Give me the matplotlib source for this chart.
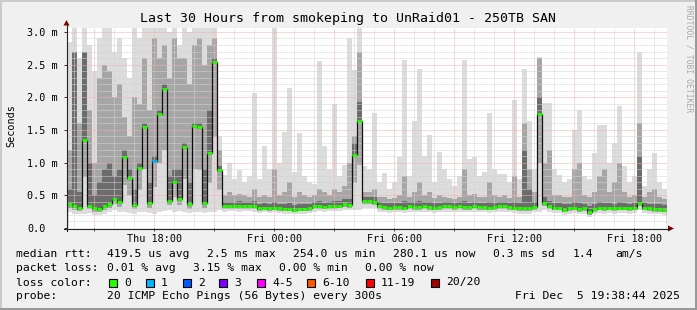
import numpy as np
import matplotlib
matplotlib.use("Agg")
from matplotlib import pyplot as plt
from matplotlib.patches import Rectangle, Polygon

plt.rcParams["font.family"] = "DejaVu Sans Mono"

# time axis: hours since Thu 00:00, 15 min bins over the last 30 hours
start_h = 13 + 38 / 60 + 44 / 3600
step_h = 0.25

# median rtt per bin (ms)
med = [0.36, 0.33, 0.31, 1.34, 0.34, 0.30, 0.29, 0.33, 0.37, 0.45,
       0.40, 1.09, 0.77, 0.35, 0.92, 1.55, 0.38, 1.03, 1.74, 2.12,
       0.42, 0.70, 0.45, 1.24, 0.36, 1.56, 1.55, 0.38, 1.15, 2.54,
       0.89, 0.34, 0.33, 0.33, 0.34, 0.33, 0.33, 0.33, 0.30, 0.31,
       0.30, 0.31, 0.30, 0.29, 0.29, 0.28, 0.29, 0.29, 0.30, 0.33,
       0.33, 0.32, 0.33, 0.33, 0.34, 0.37, 0.35, 1.12, 1.64, 0.41,
       0.41, 0.40, 0.33, 0.32, 0.31, 0.32, 0.32, 0.31, 0.33, 0.32,
       0.32, 0.33, 0.32, 0.31, 0.32, 0.33, 0.33, 0.32, 0.33, 0.32,
       0.32, 0.33, 0.32, 0.32, 0.31, 0.32, 0.33, 0.33, 0.32, 0.31,
       0.30, 0.30, 0.30, 0.32, 1.74, 0.38, 0.33, 0.31, 0.31, 0.28,
       0.30, 0.31, 0.29, 0.30, 0.24, 0.29, 0.31, 0.30, 0.31, 0.30,
       0.31, 0.31, 0.30, 0.31, 0.38, 0.31, 0.30, 0.29, 0.29, 0.28]

# smoke: max ping (light), upper spread (mid), dense core (dark), lowest ping
top = [2.85, 3.10, 2.60, 3.10, 2.80, 2.40, 2.90, 3.10, 3.10, 2.70,
       2.90, 2.60, 2.30, 3.10, 2.90, 3.10, 3.10, 3.10, 3.10, 3.10,
       3.00, 3.10, 2.80, 3.10, 3.00, 3.10, 3.10, 3.10, 3.10, 3.10,
       1.40, 0.81, 1.00, 0.75, 0.89, 0.70, 0.80, 2.06, 0.75, 1.25,
       0.90, 3.10, 1.00, 1.47, 2.14, 0.85, 1.45, 0.80, 0.70, 0.68,
       2.55, 1.25, 0.90, 1.90, 0.80, 0.96, 2.90, 2.42, 3.10, 0.95,
       0.90, 1.76, 0.70, 0.84, 0.60, 0.70, 1.09, 2.57, 0.79, 1.63,
       2.44, 1.10, 1.42, 0.70, 1.17, 0.90, 0.75, 0.65, 0.80, 2.57,
       1.05, 1.09, 0.80, 0.85, 1.76, 0.90, 0.82, 0.82, 0.70, 1.96,
       0.75, 2.44, 1.63, 0.90, 2.62, 1.91, 1.91, 0.90, 0.81, 0.70,
       0.75, 1.50, 1.81, 0.80, 0.75, 1.15, 1.58, 1.58, 1.00, 1.30,
       1.86, 0.95, 0.70, 0.80, 2.70, 0.65, 0.90, 1.15, 0.70, 0.60]

mid = [1.20, 2.70, 1.60, 2.60, 1.80, 1.00, 2.30, 2.50, 2.40, 2.00,
       2.20, 1.70, 1.40, 2.00, 1.90, 2.60, 1.80, 2.90, 2.60, 2.80,
       2.30, 2.90, 2.60, 2.60, 2.20, 2.80, 2.90, 2.50, 2.80, 2.90,
       1.20, 0.50, 0.55, 0.50, 0.52, 0.50, 0.48, 0.60, 0.47, 0.50,
       0.48, 0.90, 0.50, 0.55, 0.70, 0.47, 0.55, 0.50, 0.48, 0.50,
       0.60, 0.55, 0.50, 0.60, 0.55, 0.65, 1.00, 1.40, 2.70, 0.55,
       0.55, 0.60, 0.48, 0.47, 0.45, 0.46, 0.50, 0.80, 0.48, 0.55,
       0.70, 0.50, 0.55, 0.46, 0.50, 0.48, 0.46, 0.45, 0.48, 0.90,
       0.50, 0.52, 0.47, 0.48, 0.70, 0.50, 0.48, 0.50, 0.46, 0.80,
       0.48, 1.60, 0.90, 0.55, 2.60, 1.00, 1.20, 0.50, 0.50, 0.47,
       0.48, 0.90, 1.00, 0.50, 0.48, 0.55, 0.80, 0.90, 0.55, 0.70,
       1.00, 0.55, 0.48, 0.50, 1.60, 0.48, 0.55, 0.60, 0.48, 0.45]

dk = [0.60, 2.70, 0.55, 2.70, 1.00, 0.50, 0.70, 0.90, 1.00, 0.80,
      0.90, 1.20, 0.90, 0.60, 1.00, 1.60, 0.70, 1.10, 1.80, 2.20,
      0.80, 0.90, 0.90, 1.30, 0.70, 1.60, 1.60, 0.90, 1.80, 2.60,
      0.95, 0.40, 0.40, 0.40, 0.41, 0.40, 0.40, 0.42, 0.37, 0.38,
      0.37, 0.40, 0.37, 0.36, 0.38, 0.35, 0.37, 0.36, 0.37, 0.40,
      0.41, 0.39, 0.40, 0.41, 0.41, 0.45, 0.45, 1.30, 1.93, 0.48,
      0.48, 0.47, 0.40, 0.39, 0.38, 0.39, 0.39, 0.42, 0.40, 0.40,
      0.41, 0.40, 0.40, 0.38, 0.39, 0.40, 0.40, 0.39, 0.40, 0.42,
      0.39, 0.40, 0.39, 0.39, 0.40, 0.39, 0.40, 0.40, 0.39, 0.40,
      0.38, 1.20, 0.60, 0.40, 2.00, 0.48, 0.42, 0.38, 0.38, 0.36,
      0.37, 0.40, 0.38, 0.37, 0.33, 0.36, 0.40, 0.38, 0.38, 0.37,
      0.40, 0.38, 0.37, 0.38, 1.10, 0.38, 0.37, 0.36, 0.36, 0.35]

low = [0.24, 0.22, 0.21, 0.22, 0.23, 0.20, 0.20, 0.22, 0.24, 0.27,
       0.25, 0.24, 0.23, 0.22, 0.24, 0.25, 0.23, 0.22, 0.24, 0.26,
       0.27, 0.24, 0.26, 0.25, 0.23, 0.25, 0.24, 0.23, 0.24, 0.25,
       0.27, 0.25, 0.26, 0.26, 0.25, 0.26, 0.26, 0.25, 0.23, 0.24,
       0.23, 0.24, 0.23, 0.22, 0.22, 0.21, 0.22, 0.22, 0.23, 0.25,
       0.26, 0.25, 0.26, 0.26, 0.26, 0.28, 0.27, 0.27, 0.28, 0.31,
       0.31, 0.30, 0.25, 0.24, 0.23, 0.24, 0.24, 0.23, 0.25, 0.24,
       0.24, 0.25, 0.24, 0.23, 0.24, 0.25, 0.25, 0.24, 0.25, 0.24,
       0.24, 0.25, 0.24, 0.24, 0.23, 0.24, 0.25, 0.25, 0.24, 0.23,
       0.22, 0.22, 0.22, 0.24, 0.25, 0.28, 0.25, 0.23, 0.23, 0.20,
       0.22, 0.23, 0.21, 0.22, 0.17, 0.21, 0.23, 0.22, 0.23, 0.22,
       0.23, 0.23, 0.22, 0.23, 0.28, 0.23, 0.22, 0.21, 0.21, 0.20]

# bins with packet loss (bin index -> loss colour index)
loss_bins = {17: 1}

loss_labels = ["0", "1", "2", "3", "4-5", "6-10", "11-19", "20/20"]
loss_colors = ["#26ff00", "#00b8ff", "#0059ff", "#7e00ff",
               "#ff00ff", "#ff5500", "#ff0000", "#a10000"]

rtt_stats = ["419.5 us avg", "2.5 ms max", "254.0 us min", "280.1 us now",
             "0.3 ms sd", "1.4", "am/s"]
loss_stats = ["0.01 % avg", "3.15 % max", "0.00 % min", "0.00 % now"]
probe_text = "20 ICMP Echo Pings (56 Bytes) every 300s"
stamp_text = "Fri Dec  5 19:38:44 2025"
title = "Last 30 Hours from smokeping to UnRaid01 - 250TB SAN"

xtick_hours = [18, 24, 30, 36, 42]
xtick_labels = ["Thu 18:00", "Fri 00:00", "Fri 06:00", "Fri 12:00", "Fri 18:00"]
ytick_labels = ["0.0", "0.5 m", "1.0 m", "1.5 m", "2.0 m", "2.5 m", "3.0 m"]

# ---------------------------------------------------------------------------
W, H = 697, 310
fig = plt.figure(figsize=(W / 100, H / 100), dpi=100)
fig.patch.set_facecolor("#f0f0f0")

ax = fig.add_axes([67 / W, 82 / H, 600 / W, 200 / H])
ax.set_facecolor("white")

n = len(med)
med_a = np.array(med)
edges = start_h + step_h * np.arange(n + 1)

ax.stairs(top, edges, baseline=low, fill=True, color="#dcdcdc", lw=0, zorder=1)
ax.stairs(mid, edges, baseline=(np.array(low) + med_a) / 2, fill=True,
          color="#a6a6a6", lw=0, zorder=1.2)
ax.stairs(dk, edges, baseline=med_a - 0.03, fill=True, color="#6c6c6c", lw=0, zorder=1.4)
ax.stairs(med, edges, color="#111111", lw=0.9, zorder=4)
cols = [loss_colors[loss_bins.get(i, 0)] for i in range(n)]
ax.hlines(med, edges[:-1], edges[1:], colors=cols, lw=2.0, zorder=5)

ax.set_xlim(start_h, start_h + 30)
ax.set_ylim(0, 3.06)

major_x = np.arange(15, 43, 3)
ax.set_xticks(major_x)
ax.set_xticklabels([xtick_labels[xtick_hours.index(h)] if h in xtick_hours else ""
                    for h in major_x])
ax.set_xticks(np.arange(14, 44, 1), minor=True)
ax.set_yticks(np.arange(0, 3.01, 0.5))
ax.set_yticklabels(ytick_labels)
ax.set_yticks(np.arange(0, 3.01, 0.1), minor=True)
for lbl in ax.get_yticklabels():
    lbl.set_horizontalalignment("left")

ax.tick_params(which="minor", length=0)
ax.tick_params(axis="x", which="major", length=2, width=0.7, color="#333333",
               labelsize=7.3, pad=2.5)
ax.tick_params(axis="y", which="major", length=2, width=0.7, color="#333333",
               labelsize=7.3, pad=26.6)
ax.set_axisbelow(False)
ax.grid(which="minor", color="#d4d4d4", linestyle=(0, (1, 1)), lw=0.72)
ax.grid(which="major", color="#f2b0b0", linestyle=(0, (1, 1)), lw=0.72)
for s in ax.spines.values():
    s.set_visible(False)

# overlay in pixel coordinates for frame, axes arrows and legend
ov = fig.add_axes([0, 0, 1, 1])
ov.set_xlim(0, W)
ov.set_ylim(H, 0)
ov.axis("off")

ov.add_patch(Rectangle((0, 0), W, 2, color="#cbcbcb", lw=0))
ov.add_patch(Rectangle((0, 0), 2, H, color="#cbcbcb", lw=0))
ov.add_patch(Rectangle((0, H - 2), W, 2, color="#999999", lw=0))
ov.add_patch(Rectangle((W - 2, 0), 2, H, color="#999999", lw=0))

ov.plot([64, 669], [228.5, 228.5], color="#222222", lw=0.8)
ov.plot([66.5, 66.5], [231, 25], color="#222222", lw=0.8)
ov.add_patch(Polygon([(668, 225.5), (674, 228.5), (668, 231.5)], color="#7f0000", lw=0))
ov.add_patch(Polygon([(63.5, 25.5), (66.5, 20), (69.5, 25.5)], color="#7f0000", lw=0))

ov.text(348.5, 18.5, title, ha="center", va="center", fontsize=9.5)
ov.text(11, 126, "Seconds", ha="center", va="center", rotation=90, fontsize=7.3)
ov.text(688.5, 5, "RRDTOOL / TOBI OETIKER", ha="center", va="top", rotation=270,
        fontsize=5.8, color="#a8a8a8")

fs = 8.2
row_y = [254, 268, 282.5, 296]
ov.text(16, row_y[0], "median rtt:", ha="left", va="center", fontsize=fs)
for x0, s in zip([107, 207, 293, 393, 493, 573, 615], rtt_stats):
    ov.text(x0, row_y[0], s, ha="left", va="center", fontsize=fs)
ov.text(16, row_y[1], "packet loss:", ha="left", va="center", fontsize=fs)
for x0, s in zip([107, 193, 279, 365], loss_stats):
    ov.text(x0, row_y[1], s, ha="left", va="center", fontsize=fs)
ov.text(16, row_y[2], "loss color:", ha="left", va="center", fontsize=fs)
box_x = [109, 146, 183, 219, 257, 307, 366, 431]
for bx, c, lab in zip(box_x, loss_colors, loss_labels):
    ov.add_patch(Rectangle((bx, row_y[2] - 4), 8, 8, facecolor=c,
                           edgecolor="black", lw=0.8))
    ov.text(bx + 15, row_y[2], lab, ha="left", va="center", fontsize=fs)
ov.text(16, row_y[3], "probe:", ha="left", va="center", fontsize=fs)
ov.text(107, row_y[3], probe_text, ha="left", va="center", fontsize=fs)
ov.text(680, row_y[3], stamp_text, ha="right", va="center", fontsize=fs)

fig.savefig("out.png", dpi=100, facecolor=fig.get_facecolor())
